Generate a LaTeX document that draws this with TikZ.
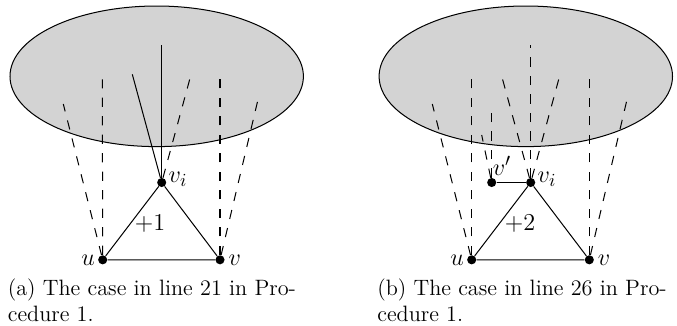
\documentclass[tikz,border=0pt]{standalone}
\usepackage{amsmath, amssymb}
\usepackage{xcolor}
\definecolor{region-gray}{HTML}{D3D3D3}

\begin{document}
\begin{tikzpicture}[x=0.594pt, y=-0.594pt,
        every node/.style={font=\normalsize},
        vertex/.style={circle, fill=black, inner sep=0pt, minimum size=5.4pt},
        vlabel/.style={font=\fontsize{15}{18}\selectfont},
        region/.style={draw=black, fill=region-gray, line width=0.6pt},
        edge/.style={line width=0.6pt},
        hidden/.style={line width=0.6pt, dash pattern=on 5.5pt off 5.5pt},
        gain/.style={font=\fontsize{15.4}{18}\selectfont},
        capt/.style={anchor=north west, inner sep=0pt, align=left,
                     font=\fontsize{13.2}{15.5}\selectfont}]
      \useasboundingbox (0,0) rectangle (677,325);
      % left: line 21
      \draw[region] (156.7,76.3) ellipse [x radius=146.7, y radius=70.3];
      \node[vertex] (u)  at (102.7,259.8) {};
      \node[vertex] (v)  at (220.0,259.8) {};
      \node[vertex] (vi) at (161.7,182.5) {};
      \node[vlabel, anchor=east, inner sep=1.5pt] (ul) at (u.west) {$u$};
      \node[vlabel, anchor=west, inner sep=2pt] (vl) at (v.east) {$v$};
      \node[vlabel, anchor=base west, inner sep=1pt] (vil) at (vi.east) {$v_i$};
      \coordinate (a1) at (161.7,45.0);
      \coordinate (a2) at (132.3,74.3);
      \coordinate (a3) at (190.0,78.3);
      \coordinate (a4) at (102.3,79.3);
      \coordinate (a5) at (63.3,104.0);
      \coordinate (a6) at (220.0,74.7);
      \coordinate (a7) at (258.3,98.3);
      \draw[edge] (vi) -- (a1);
      \draw[edge] (vi) -- (a2);
      \draw[hidden] (vi) -- (a3);
      \draw[hidden] (u) -- (a4);
      \draw[hidden] (u) -- (a5);
      \draw[hidden] (v) -- (a6);
      \draw[hidden] (v) -- (a7);
      \draw[edge] (u) -- (v) -- (vi) -- (u);
      \node[gain] (g1) at (150,224) {$+1$};
      \node[capt] (ca) at (7.5,278.3)
            {(a) The case in line 21 in Pro-\\cedure 1.};
      % right: line 26
      \draw[region] (525.8,76.3) ellipse [x radius=146.7, y radius=70.3];
      \node[vertex] (u2)  at (471.7,259.8) {};
      \node[vertex] (v2)  at (589.3,259.8) {};
      \node[vertex] (vi2) at (530.7,182.5) {};
      \node[vertex] (vp)  at (491.7,182.5) {};
      \node[vlabel, anchor=east, inner sep=1.5pt] (ul2) at (u2.west) {$u$};
      \node[vlabel, anchor=west, inner sep=2pt] (vl2) at (v2.east) {$v$};
      \node[vlabel, anchor=base west, inner sep=1pt] (vil2) at (vi2.east) {$v_i$};
      \node[vlabel, anchor=base west, inner sep=0.5pt, yshift=1.5pt] (vpl) at (vp.north) {$v'$};
      \coordinate (b1) at (530.7,45.0);
      \coordinate (b2) at (502.3,78.3);
      \coordinate (b3) at (559.0,78.3);
      \coordinate (b4) at (491.7,104.0);
      \coordinate (b5) at (481.7,135.0);
      \coordinate (b6) at (471.7,79.3);
      \coordinate (b7) at (432.3,104.0);
      \coordinate (b8) at (589.3,74.7);
      \coordinate (b9) at (627.3,98.3);
      \draw[hidden] (vi2) -- (b1);
      \draw[hidden] (vi2) -- (b2);
      \draw[hidden] (vi2) -- (b3);
      \draw[hidden] (vp) -- (b4);
      \draw[hidden] (vp) -- (b5);
      \draw[hidden] (u2) -- (b6);
      \draw[hidden] (u2) -- (b7);
      \draw[hidden] (v2) -- (b8);
      \draw[hidden] (v2) -- (b9);
      \draw[edge] (u2) -- (v2) -- (vi2) -- (u2);
      \draw[edge] (vp) -- (vi2);
      \node[gain] (g2) at (520,224) {$+2$};
      \node[capt] (cb) at (377,278.3)
            {(b) The case in line 26 in Pro-\\cedure 1.};
    \end{tikzpicture}
\end{document}
